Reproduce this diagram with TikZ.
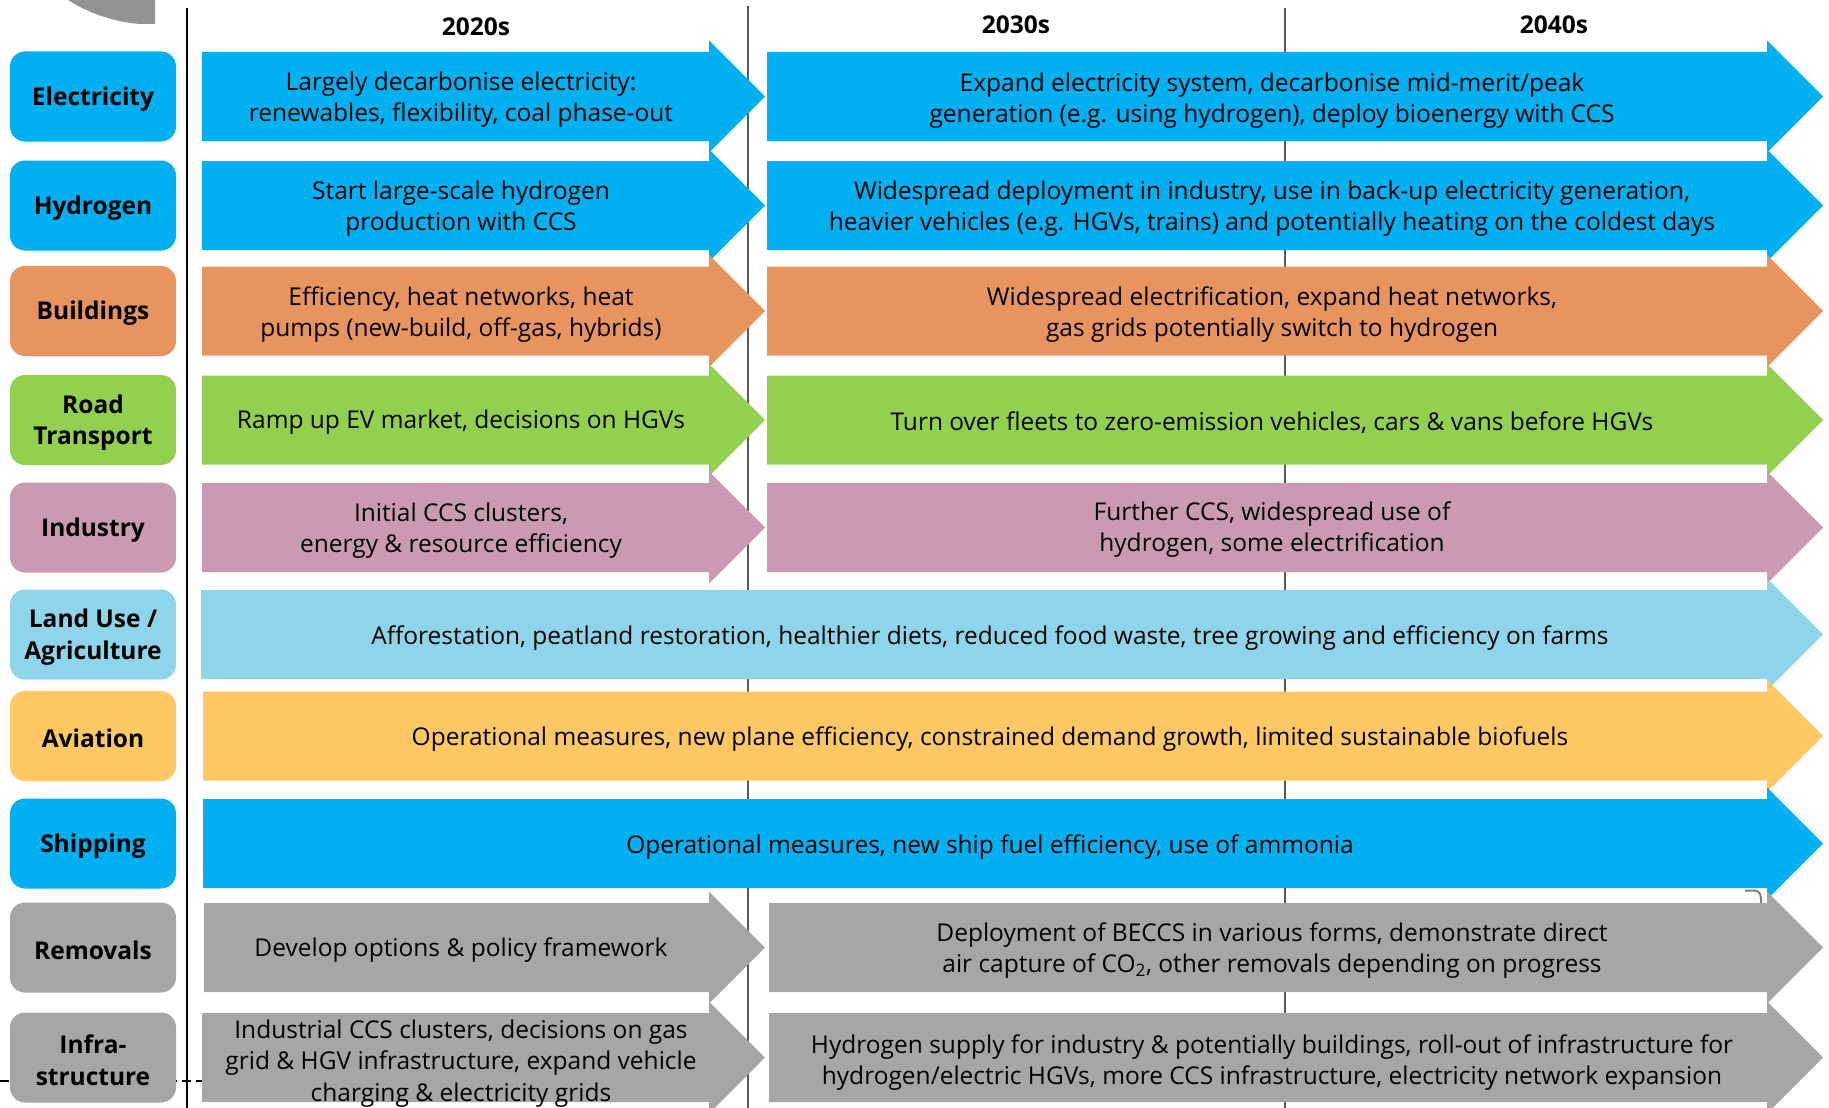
\documentclass[tikz,border=0pt]{standalone}
\usepackage{fontspec}
\setmainfont{Open Sans}
\definecolor{cblue}{HTML}{00B0F0}
\definecolor{corange}{HTML}{E8945F}
\definecolor{cgreen}{HTML}{92D050}
\definecolor{cpink}{HTML}{CA9AB2}
\definecolor{clight}{HTML}{8ED4EA}
\definecolor{cyellow}{HTML}{FFC864}
\definecolor{cgrey}{HTML}{A6A6A6}
\definecolor{cline}{HTML}{595959}
% color, x left, x head start, y centre
\newcommand\myarrow[4]{\fill[#1] (#2,{#4-44.5}) -- (#3,{#4-44.5}) -- (#3,{#4-56}) -- ({#3+56},#4) -- (#3,{#4+56}) -- (#3,{#4+44.5}) -- (#2,{#4+44.5}) -- cycle;}
\begin{document}
\begin{tikzpicture}[x=1pt,y=-1pt,
  every node/.style={font=\fontsize{24.5}{31.5}\selectfont, inner sep=0pt},
  txt/.style={align=center, yshift=-2.5pt},
  lab/.style={rounded corners=15pt, minimum width=166pt, minimum height=90pt},
  labtxt/.style={align=center, yshift=-2.5pt, font=\fontsize{24.5}{31.5}\selectfont\bfseries},
  hdr/.style={font=\fontsize{24.5}{31.5}\selectfont\bfseries, yshift=-2pt}]
\useasboundingbox (0,0) rectangle (1829,1108);
% background marks
\fill[gray!85] (68,0) .. controls (90,14) and (115,22) .. (140,24) -- (155,24) -- (155,0) -- cycle;
\draw[dash pattern=on 9pt off 5pt, line width=1.3pt] (0,1081) -- (205,1081);
\draw[line width=1.8pt] (187,8) -- (187,1108);
\draw[cline, line width=1.8pt] (748,6) -- (748,1108);
\draw[cline, line width=1.8pt] (1285,8) -- (1285,1108);
\draw[gray, line width=2pt] (1745,890.5) -- (1753,890.5) .. controls (1761,890.5) and (1761,895) .. (1761,903);
% headers
\node[hdr] (h20) at (476,25) {2020s};
\node[hdr] (h30) at (1016,23) {2030s};
\node[hdr] (h40) at (1554,23) {2040s};
% labels
\node[lab, fill=cblue] (lelec) at (93,96.5) {};
\node[lab, fill=cblue] (lhyd) at (93,205.5) {};
\node[lab, fill=corange] (lbld) at (93,311) {};
\node[lab, fill=cgreen] (lroad) at (93,420) {};
\node[lab, fill=cpink] (lind) at (93,527.5) {};
\node[lab, fill=clight] (lland) at (93,634.5) {};
\node[lab, fill=cyellow] (lavi) at (93,736) {};
\node[lab, fill=cblue] (lship) at (93,843.5) {};
\node[lab, fill=cgrey] (lrem) at (93,947.5) {};
\node[lab, fill=cgrey] (linf) at (93,1057.5) {};
\node[labtxt] (telec) at (lelec) {Electricity};
\node[labtxt] (thyd) at (lhyd) {Hydrogen};
\node[labtxt] (tbld) at (lbld) {Buildings};
\node[labtxt] (troad) at (lroad) {Road\\Transport};
\node[labtxt] (tind) at (lind) {Industry};
\node[labtxt] (tland) at (lland) {Land Use /\\Agriculture};
\node[labtxt] (tavi) at (lavi) {Aviation};
\node[labtxt] (tship) at (lship) {Shipping};
\node[labtxt] (trem) at (lrem) {Removals};
\node[labtxt] (tinf) at (linf) {Infra-\\structure};
% arrows
\myarrow{cblue}{202}{709}{96.5}
\myarrow{cblue}{767}{1767}{96.5}
\myarrow{cblue}{202}{709}{205.5}
\myarrow{cblue}{767}{1767}{205.5}
\myarrow{corange}{202}{709}{311}
\myarrow{corange}{767}{1767}{311}
\myarrow{cgreen}{202}{709}{420}
\myarrow{cgreen}{767}{1767}{420}
\myarrow{cpink}{202}{709}{527.5}
\myarrow{cpink}{767}{1767}{527.5}
\myarrow{clight}{201}{1767}{634.5}
\myarrow{cyellow}{203}{1767}{736}
\myarrow{cblue}{203}{1767}{843.5}
\myarrow{cgrey}{204}{709}{947.5}
\myarrow{cgrey}{769}{1767}{947.5}
\myarrow{cgrey}{202}{709}{1057.5}
\myarrow{cgrey}{769}{1767}{1057.5}
% arrow texts
\node[txt] (elec1) at (461,97) {Largely decarbonise electricity:\\renewables, flexibility, coal phase-out};
\node[txt] (elec2) at (1272,98) {Expand electricity system, decarbonise mid-merit/peak\\generation (e.g. using hydrogen), deploy bioenergy with CCS};
\node[txt] (hyd1) at (461,206) {Start large-scale hydrogen\\production with CCS};
\node[txt] (hyd2) at (1272,206) {Widespread deployment in industry, use in back-up electricity generation,\\heavier vehicles (e.g. HGVs, trains) and potentially heating on the coldest days};
\node[txt] (bld1) at (461,312) {Efficiency, heat networks, heat\\pumps (new-build, off-gas, hybrids)};
\node[txt] (bld2) at (1272,312) {Widespread electrification, expand heat networks,\\gas grids potentially switch to hydrogen};
\node[txt] (road1) at (461,420) {Ramp up EV market, decisions on HGVs};
\node[txt] (road2) at (1272,420) {Turn over fleets to zero-emission vehicles, cars \& vans before HGVs};
\node[txt] (ind1) at (461,528) {Initial CCS clusters,\\energy \& resource efficiency};
\node[txt] (ind2) at (1272,527) {Further CCS, widespread use of\\hydrogen, some electrification};
\node[txt] (land) at (990,636) {Afforestation, peatland restoration, healthier diets, reduced food waste, tree growing and efficiency on farms};
\node[txt] (avi) at (990,737) {Operational measures, new plane efficiency, constrained demand growth, limited sustainable biofuels};
\node[txt] (ship) at (990,845) {Operational measures, new ship fuel efficiency, use of ammonia};
\node[txt] (rem1) at (461,948) {Develop options \& policy framework};
\node[txt] (rem2) at (1272,948) {Deployment of BECCS in various forms, demonstrate direct\\air capture of CO\textsubscript{2}, other removals depending on progress};
\node[txt] (inf1) at (461,1061) {Industrial CCS clusters, decisions on gas\\grid \& HGV infrastructure, expand vehicle\\charging \& electricity grids};
\node[txt] (inf2) at (1272,1060) {Hydrogen supply for industry \& potentially buildings, roll-out of infrastructure for\\hydrogen/electric HGVs, more CCS infrastructure, electricity network expansion};
\end{tikzpicture}
\end{document}
